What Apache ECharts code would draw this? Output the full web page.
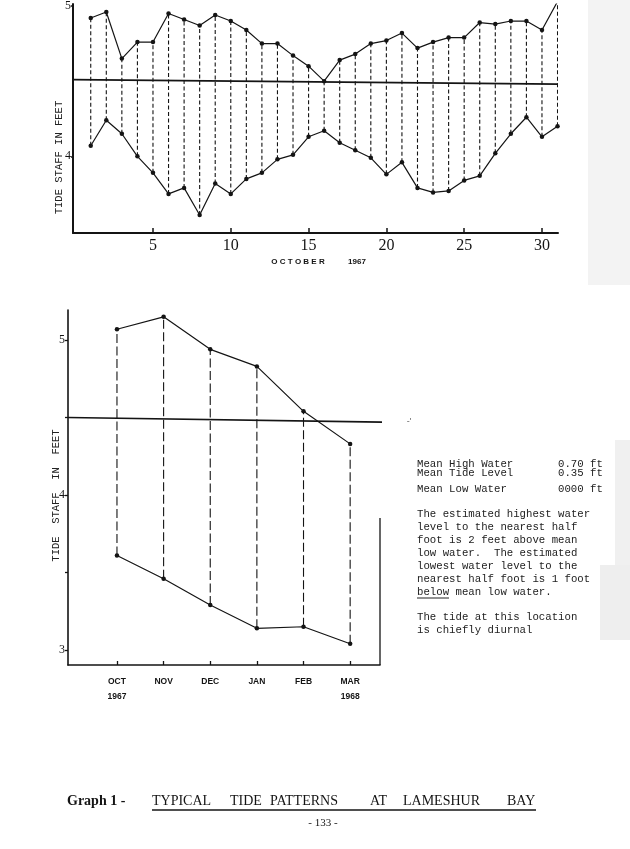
<!DOCTYPE html>
<html><head><meta charset="utf-8">
<script src="https://cdn.jsdelivr.net/npm/echarts@6/dist/echarts.min.js"></script>
<style>html,body{margin:0;padding:0;background:#fff}#c{width:630px;height:849px}</style>
</head><body><div id="c"></div>
<script>
// ---- data ----
const days = [1,2,3,4,5,6,7,8,9,10,11,12,13,14,15,16,17,18,19,20,21,22,23,24,25,26,27,28,29,30,31];
const octHigh = [4.92,4.96,4.65,4.76,4.76,4.95,4.91,4.87,4.94,4.90,4.84,4.75,4.75,4.67,4.60,4.50,4.64,4.68,4.75,4.77,4.82,4.72,4.76,4.79,4.79,4.89,4.88,4.90,4.90,4.84,5.03];
const octLow  = [4.07,4.24,4.15,4.00,3.89,3.75,3.79,3.61,3.82,3.75,3.85,3.89,3.98,4.01,4.13,4.17,4.09,4.04,3.99,3.88,3.96,3.79,3.76,3.77,3.84,3.87,4.02,4.15,4.26,4.13,4.20];
const octMean = [4.51, 4.48];
const dayTicks = [5,10,15,20,25,30];
const topYTicks = [4,5];

const months = ['OCT','NOV','DEC','JAN','FEB','MAR'];
const monthYears = ['1967','','','','','1968'];
const monthHigh = [5.07,5.15,4.94,4.83,4.54,4.33];
const monthLow  = [3.61,3.46,3.29,3.14,3.15,3.04];
const monthMean = [4.50, 4.47];
const botYLabels = [3,4,5];
const botYTicks = [3,3.5,4,4.5,5];

// ---- axis ranges ----
const topX = [-0.14, 31.03], topY = [3.49, 5.013];
const botX = [-1.05, 5.64], botY = [2.903, 5.194];

const ink = '#141414';
const mono = '"Liberation Mono", "DejaVu Sans Mono", monospace';
const serif = '"Liberation Serif", "DejaVu Serif", serif';
const sans = '"Liberation Sans", Arial, sans-serif';

function pairs(xs, ys){ return xs.map((x,i)=>[x, ys[i]]); }
function dashSeries(xi, dash, xs, lo, hi){
  return {
    type:'custom', xAxisIndex:xi, yAxisIndex:xi, clip:true, silent:true,
    data: xs.map((x,i)=>[x, lo[i], hi[i]]),
    encode:{x:0, y:[1,2]},
    renderItem:(params, api)=>{
      const a = api.coord([api.value(0), api.value(1)]);
      const b = api.coord([api.value(0), api.value(2)]);
      return {type:'line', shape:{x1:a[0],y1:a[1],x2:b[0],y2:b[1]},
        style:{stroke:ink, lineWidth:1.1, lineDash:dash}};
    }
  };
}
function dataLine(xi, data){
  return {type:'line', xAxisIndex:xi, yAxisIndex:xi, data, symbol:'circle', symbolSize:4.5,
    lineStyle:{color:ink, width:1.2}, itemStyle:{color:ink}, silent:true, animation:false, clip:true};
}
function meanLine(xi, xr, m){
  return {type:'line', xAxisIndex:xi, yAxisIndex:xi, data:[[xr[0], m[0]],[xr[1], m[1]]],
    showSymbol:false, lineStyle:{color:ink, width:1.6}, silent:true, animation:false};
}

const chart = echarts.init(document.getElementById('c'), null, {renderer:'canvas'});
const t = (text, x, y, style) => ({type:'text', x, y, style:Object.assign({text, fill:ink}, style)});

const textLines = [
  ['Mean High Water', 464], ['Mean Tide Level', 473], ['Mean Low Water', 489],
  ['The estimated highest water', 514], ['level to the nearest half', 527],
  ['foot is 2 feet above mean', 540], ['low water.  The estimated', 553],
  ['lowest water level to the', 566], ['nearest half foot is 1 foot', 579],
  ['below mean low water.', 592], ['The tide at this location', 617],
  ['is chiefly diurnal', 630]
];
const textVals = [['0.70 ft', 464], ['0.35 ft', 473], ['0000 ft', 489]];
const monoStyle = {font:'10.7px ' + mono, verticalAlign:'middle', fill:'#222'};

const titleWords = [['TYPICAL',152],['TIDE',230],['PATTERNS',270],['AT',370],['LAMESHUR',403],['BAY',507]];

const graphic = [
  {type:'rect', shape:{x:588, y:0, width:42, height:285}, style:{fill:'#f3f3f3'}, z:-10},
  {type:'rect', shape:{x:615, y:440, width:15, height:125}, style:{fill:'#f0f0f0'}, z:-10},
  {type:'rect', shape:{x:600, y:565, width:30, height:75}, style:{fill:'#eeeeee'}, z:-10},
  t('O C T O B E R', 298, 262, {font:'bold 8px ' + sans, align:'center', verticalAlign:'middle'}),
  t('1967', 357, 262, {font:'bold 8px ' + sans, align:'center', verticalAlign:'middle'}),
  {type:'line', shape:{x1:380, y1:518, x2:380, y2:665}, style:{stroke:ink, lineWidth:1.3}},
  t("-'", 409, 422, {font:'9px ' + sans, fill:'#666', align:'center', verticalAlign:'middle'}),
  ...textLines.map(([s,y]) => t(s, 417, y, monoStyle)),
  ...textVals.map(([s,y]) => t(s, 558, y, monoStyle)),
  {type:'line', shape:{x1:417, y1:598, x2:449, y2:598}, style:{stroke:'#222', lineWidth:1}},
  t('Graph 1 -', 67, 801, {font:'bold 14px ' + serif, verticalAlign:'middle'}),
  ...titleWords.map(([s,x]) => t(s, x, 801, {font:'14px ' + serif, verticalAlign:'middle'})),
  {type:'line', shape:{x1:152, y1:810, x2:536, y2:810}, style:{stroke:ink, lineWidth:1.3}},
  t('- 133 -', 323, 823, {font:'11px ' + serif, align:'center', verticalAlign:'middle'})
];

const axisLineStyle = w => ({show:true, onZero:false, lineStyle:{color:ink, width:w}});

chart.setOption({
  animation:false,
  backgroundColor:'#fff',
  grid:[
    {left:73, top:0, width:485, height:233},
    {left:68, top:310, width:312, height:355}
  ],
  xAxis:[
    {type:'value', gridIndex:0, min:topX[0], max:topX[1], axisLine:axisLineStyle(2),
     splitLine:{show:false},
     axisTick:{show:true, inside:true, length:5, customValues:dayTicks, lineStyle:{color:ink, width:1.5}},
     axisLabel:{customValues:dayTicks, color:ink, fontFamily:serif, fontSize:16, margin:5}},
    {type:'value', gridIndex:1, min:botX[0], max:botX[1], axisLine:axisLineStyle(1.6),
     splitLine:{show:false},
     axisTick:{show:true, inside:true, length:4, customValues:[0,1,2,3,4,5], lineStyle:{color:ink, width:1.3}},
     axisLabel:{customValues:[0,1,2,3,4,5], color:ink, fontFamily:sans, fontWeight:'bold', fontSize:8.5,
       margin:9, lineHeight:15,
       formatter:v => { const i = Math.round(v); return monthYears[i] ? months[i] + '\n' + monthYears[i] : months[i]; }}}
  ],
  yAxis:[
    {type:'value', gridIndex:0, min:topY[0], max:topY[1], axisLine:axisLineStyle(2),
     splitLine:{show:false},
     axisTick:{show:true, length:2, customValues:topYTicks, lineStyle:{color:ink, width:1.5}},
     axisLabel:{customValues:topYTicks, color:ink, fontFamily:serif, fontSize:12, margin:2},
     name:'TIDE STAFF IN FEET', nameLocation:'middle', nameRotate:90, nameGap:8, nameMoveOverlap:false,
     nameTextStyle:{color:'#222', fontFamily:mono, fontSize:10.5, padding:[0,78,0,0]}},
    {type:'value', gridIndex:1, min:botY[0], max:botY[1], axisLine:axisLineStyle(1.6),
     splitLine:{show:false},
     axisTick:{show:true, length:3, customValues:botYTicks, lineStyle:{color:ink, width:1.3}},
     axisLabel:{customValues:botYLabels, color:ink, fontFamily:serif, fontSize:12, margin:3},
     name:'TIDE  STAFF  IN  FEET', nameLocation:'middle', nameRotate:90, nameGap:6, nameMoveOverlap:false,
     nameTextStyle:{color:'#222', fontFamily:mono, fontSize:10.5, padding:[0,16,0,0]}}
  ],
  series:[
    dashSeries(0, [4,2.5], days, octLow, octHigh),
    meanLine(0, topX, octMean),
    dataLine(0, pairs(days, octHigh)),
    dataLine(0, pairs(days, octLow)),
    dashSeries(1, [9,3.5], months.map((m,i)=>i), monthLow, monthHigh),
    meanLine(1, [botX[0], botX[1] + 0.08], monthMean),
    dataLine(1, pairs(months.map((m,i)=>i), monthHigh)),
    dataLine(1, pairs(months.map((m,i)=>i), monthLow))
  ],
  graphic
});
</script></body></html>
